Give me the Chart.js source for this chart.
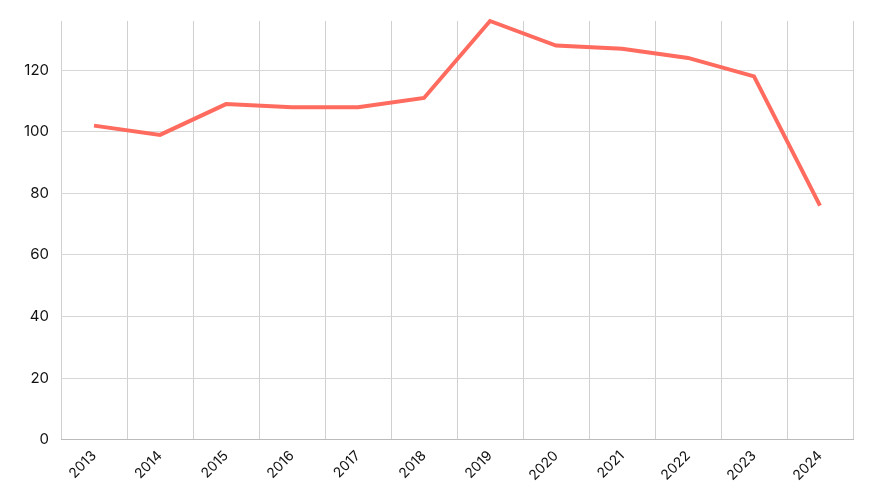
<!DOCTYPE html>
<html>
<head>
<meta charset="utf-8">
<script src="https://cdn.jsdelivr.net/npm/chart.js@4"></script>
<style>
  html, body { margin: 0; padding: 0; background: #fff; }
  #wrap { width: 873px; height: 500px; }
</style>
</head>
<body>
<div id="wrap"><canvas id="lineChart"></canvas></div>
<script>
// data
const years = ['2013', '2014', '2015', '2016', '2017', '2018', '2019', '2020', '2021', '2022', '2023', '2024'];
const values = [102, 99, 109, 108, 108, 111, 136, 128, 127, 124, 118, 76];
const yTicks = [0, 20, 40, 60, 80, 100, 120];
const yMax = 136;

Chart.defaults.font.family = 'Inter, "Noto Sans", sans-serif';
Chart.defaults.color = '#111';

new Chart(document.getElementById('lineChart'), {
    type: 'line',
    data: {
        labels: years,
        datasets: [{
            data: values,
            borderColor: '#ff6b5e',
            borderWidth: 4,
            pointRadius: 0,
            tension: 0,
            clip: false
        }]
    },
    options: {
        responsive: true,
        maintainAspectRatio: false,
        animation: false,
        layout: { padding: { top: 20, right: 20, left: 12, bottom: 8 } },
        plugins: {
            legend: { display: false },
            tooltip: { enabled: false }
        },
        scales: {
            x: {
                offset: true,
                grid: { offset: true, color: '#d0d0d0', drawTicks: false },
                border: { color: '#bbb' },
                ticks: { font: { size: 14 }, maxRotation: 45, minRotation: 45, padding: 8 }
            },
            y: {
                min: 0,
                max: yMax,
                afterBuildTicks: (axis) => {
                    axis.ticks = yTicks.map(v => ({ value: v }));
                },
                grid: { color: '#d6d6d6', drawTicks: false },
                border: { display: false },
                ticks: { font: { size: 15 }, padding: 12 }
            }
        }
    }
});
</script>
</body>
</html>
